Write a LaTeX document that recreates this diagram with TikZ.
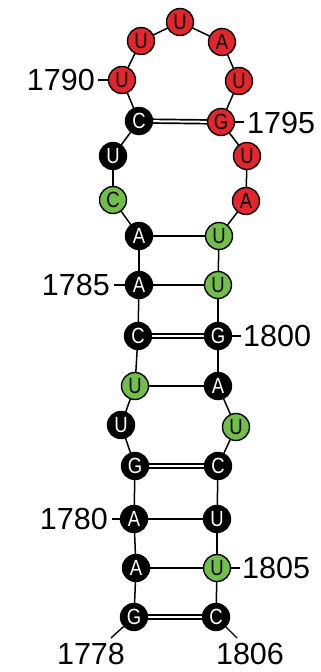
\documentclass[tikz,border=0pt]{standalone}
\usepackage{fontspec}
\setmainfont{Liberation Sans}
\usetikzlibrary{backgrounds}
\definecolor{ntred}{HTML}{E3262C}
\definecolor{ntgreen}{HTML}{72BE4B}
\tikzset{
  nt/.style={circle, draw=black, line width=1.4pt, minimum size=27pt, inner sep=0pt,
    font=\fontsize{22}{22}\selectfont},
  ntk/.style={nt, fill=black, text=white},
  ntr/.style={nt, fill=ntred, text=black},
  ntg/.style={nt, fill=ntgreen, text=black},
  bb/.style={line width=1.5pt, black},
  wc/.style={line width=1.5pt, black},
  gc/.style={line width=1.7pt, black, double=white, double distance=2pt},
  num/.style={inner sep=0pt, font=\fontsize{30.5}{30.5}\selectfont},
  tick/.style={line width=1.4pt, black}
}
\newcommand{\ntl}[1]{\scalebox{0.84}[1]{#1}}
\begin{document}
\begin{tikzpicture}[x=1pt, y=-1pt]
\useasboundingbox (0,0) rectangle (321,672);
% 5' strand
\node[ntk] (n1778) at (134,617) {\ntl{G}};
\node[ntk] (n1779) at (136,568) {\ntl{A}};
\node[ntk] (n1780) at (134,519) {\ntl{A}};
\node[ntk] (n1781) at (135,466) {\ntl{G}};
\node[ntk] (n1782) at (121,425) {\ntl{U}};
\node[ntg] (n1783) at (135,386) {\ntl{U}};
\node[ntk] (n1784) at (138,336) {\ntl{C}};
\node[ntk] (n1785) at (139,285) {\ntl{A}};
\node[ntk] (n1786) at (139,236) {\ntl{A}};
\node[ntg] (n1787) at (113,200) {\ntl{C}};
\node[ntk] (n1788) at (113,156) {\ntl{U}};
\node[ntk] (n1789) at (139,121) {\ntl{C}};
% loop
\node[ntr] (n1790) at (122,80) {\ntl{U}};
\node[ntr] (n1791) at (141,41) {\ntl{U}};
\node[ntr] (n1792) at (180,22) {\ntl{U}};
\node[ntr] (n1793) at (222,42) {\ntl{A}};
\node[ntr] (n1794) at (239,81) {\ntl{U}};
\node[ntr] (n1795) at (221,122) {\ntl{G}};
\node[ntr] (n1796) at (247,156) {\ntl{U}};
\node[ntr] (n1797) at (246,201) {\ntl{A}};
% 3' strand
\node[ntg] (n1798) at (219,236) {\ntl{U}};
\node[ntg] (n1799) at (218,285) {\ntl{U}};
\node[ntk] (n1800) at (218,336) {\ntl{G}};
\node[ntk] (n1801) at (218,386) {\ntl{A}};
\node[ntg] (n1802) at (236,427) {\ntl{U}};
\node[ntk] (n1803) at (218,466) {\ntl{C}};
\node[ntk] (n1804) at (217,519) {\ntl{U}};
\node[ntg] (n1805) at (217,568) {\ntl{U}};
\node[ntk] (n1806) at (216,617) {\ntl{C}};

\begin{scope}[on background layer]
  % backbone
  \foreach \a/\b in {1778/1779,1779/1780,1780/1781,1781/1782,1782/1783,1783/1784,
      1784/1785,1785/1786,1786/1787,1787/1788,1788/1789,1789/1790,1790/1791,
      1791/1792,1792/1793,1793/1794,1794/1795,1795/1796,1796/1797,1797/1798,
      1798/1799,1799/1800,1800/1801,1801/1802,1802/1803,1803/1804,1804/1805,1805/1806}
    \draw[bb] (n\a.center) -- (n\b.center);
  % A-U pairs
  \foreach \a/\b in {1786/1798,1785/1799,1783/1801,1780/1804,1779/1805}
    \draw[wc] (n\a.center) -- (n\b.center);
  % G-C pairs
  \foreach \a/\b in {1789/1795,1784/1800,1781/1803,1778/1806}
    \draw[gc] (n\a.center) -- (n\b.center);
\end{scope}

% position numbers
\node[num, anchor=east] (l1790) at (95,80) {1790};
\node[num, anchor=west] (l1795) at (247,123) {1795};
\node[num, anchor=east] (l1785) at (110,285) {1785};
\node[num, anchor=west] (l1800) at (243,336) {1800};
\node[num, anchor=east] (l1780) at (108,519) {1780};
\node[num, anchor=west] (l1805) at (242,568) {1805};
\node[num] (l1778) at (91,654) {1778};
\node[num] (l1806) at (250,654) {1806};
\coordinate (k1778) at (111,638);
\coordinate (k1806) at (237,638);

\draw[tick, shorten >=3pt] (n1790) -- (n1790.west -| l1790.east);
\draw[tick, shorten >=3pt] (n1795) -- (n1795.east -| l1795.west);
\draw[tick, shorten >=4pt] (n1785) -- (n1785.west -| l1785.east);
\draw[tick, shorten >=2pt] (n1800) -- (n1800.east -| l1800.west);
\draw[tick, shorten >=4pt] (n1780) -- (n1780.west -| l1780.east);
\draw[tick, shorten >=2pt] (n1805) -- (n1805.east -| l1805.west);
\draw[tick] (n1778) -- (k1778);
\draw[tick] (n1806) -- (k1806);
\end{tikzpicture}
\end{document}
